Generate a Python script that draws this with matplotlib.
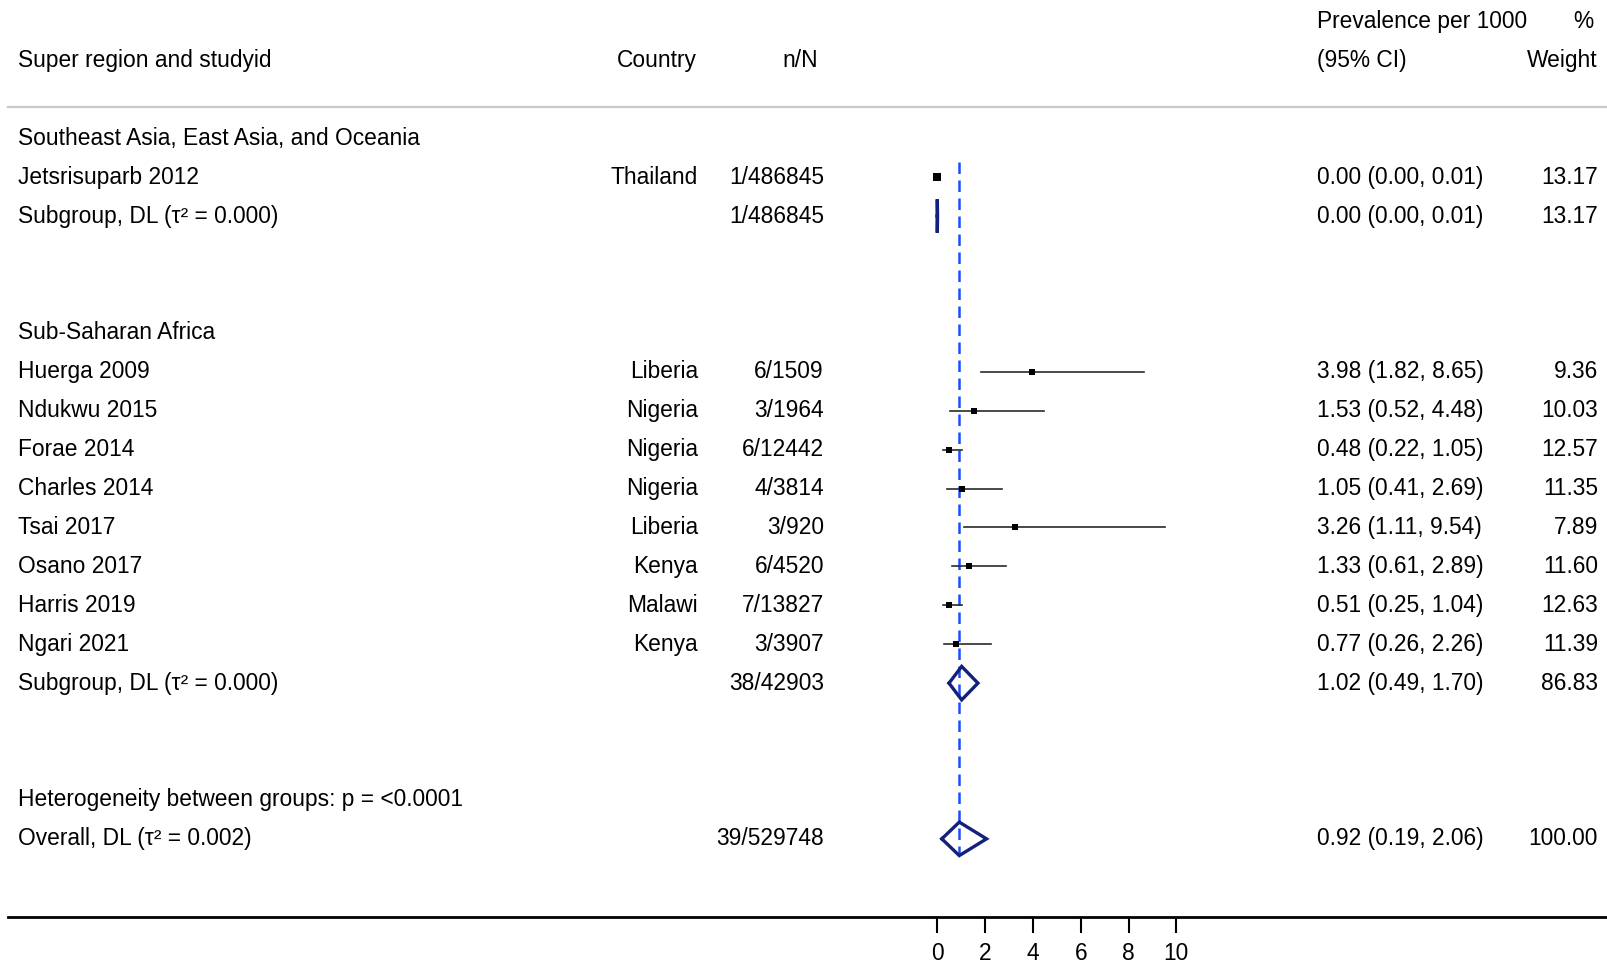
import matplotlib.pyplot as plt
import matplotlib.transforms as mtransforms

plt.rcParams['font.family'] = ['Liberation Sans', 'DejaVu Sans']

# study level data
sea_studies = ["Jetsrisuparb 2012"]
sea_country = ["Thailand"]
sea_nN = ["1/486845"]
sea_est = [0.00]
sea_lo = [0.00]
sea_hi = [0.01]
sea_w = [13.17]
sea_sub = (0.00, 0.00, 0.01)
sea_sub_nN = "1/486845"
sea_sub_w = 13.17

ssa_studies = ["Huerga 2009", "Ndukwu 2015", "Forae 2014", "Charles 2014",
               "Tsai 2017", "Osano 2017", "Harris 2019", "Ngari 2021"]
ssa_country = ["Liberia", "Nigeria", "Nigeria", "Nigeria", "Liberia",
               "Kenya", "Malawi", "Kenya"]
ssa_nN = ["6/1509", "3/1964", "6/12442", "4/3814", "3/920", "6/4520",
          "7/13827", "3/3907"]
ssa_est = [3.98, 1.53, 0.48, 1.05, 3.26, 1.33, 0.51, 0.77]
ssa_lo = [1.82, 0.52, 0.22, 0.41, 1.11, 0.61, 0.25, 0.26]
ssa_hi = [8.65, 4.48, 1.05, 2.69, 9.54, 2.89, 1.04, 2.26]
ssa_w = [9.36, 10.03, 12.57, 11.35, 7.89, 11.60, 12.63, 11.39]
ssa_sub = (1.02, 0.49, 1.70)
ssa_sub_nN = "38/42903"
ssa_sub_w = 86.83

overall = (0.92, 0.19, 2.06)
overall_nN = "39/529748"
overall_w = 100.00

xticks = [0, 2, 4, 6, 8, 10]

W, H = 1608, 965
fig = plt.figure(figsize=(W / 100, H / 100), dpi=100)
ax = fig.add_axes([8 / W, 1 - 916.7 / H, 1 - 8 / W, 916.7 / H])

ppu = 23.9  # pixels per unit on the x axis
x0 = 937.3
ax.set_xlim((8 - x0) / ppu, (W - x0) / ppu)
ax.set_ylim(20, -3.55)

for s in ['top', 'left', 'right']:
    ax.spines[s].set_visible(False)
ax.spines['bottom'].set_linewidth(2.0)
ax.set_yticks([])
ax.set_xticks(xticks)
ax.set_xticklabels([str(t) for t in xticks])
ax.tick_params(axis='x', direction='out', length=11.5, width=1.5, pad=7,
               labelsize=16.4)

tr = mtransforms.blended_transform_factory(fig.transFigure, ax.transData)
fs = 16.4
ink = '#000000'
navy = '#13207c'


def txt(px, row, s, ha='left'):
    ax.text(px / W, row, s, transform=tr, ha=ha, va='center', fontsize=fs,
            color=ink)


def ci(v):
    return "%.2f (%.2f, %.2f)" % v


def diamond(v, row):
    est, lo, hi = v
    h = 0.43
    ax.plot([lo, est, hi, est, lo], [row, row - h, row, row + h, row],
            color=navy, lw=2.4, solid_joinstyle='miter')


# header
txt(18.5, -2, "Super region and studyid")
txt(697, -2, "Country", ha='right')
txt(818, -2, "n/N", ha='right')
txt(1317, -3, "Prevalence per 1000")
txt(1317, -2, "(95% CI)")
txt(1593, -3, "%", ha='right')
txt(1598, -2, "Weight", ha='right')
ax.plot([(8 - x0) / ppu, (W - x0) / ppu], [-0.79, -0.79], color='#c8c8c8',
        lw=1.6, clip_on=False)


def study_rows(start, names, countries, nN, est, lo, hi, w):
    for i in range(len(names)):
        r = start + i
        txt(18.5, r, names[i])
        txt(698, r, countries[i], ha='right')
        txt(824, r, nN[i], ha='right')
        txt(1317, r, ci((est[i], lo[i], hi[i])))
        txt(1598, r, "%.2f" % w[i], ha='right')
        ax.plot([lo[i], hi[i]], [r, r], color='#2a2a2a', lw=1.2)
        side = 1.95 * w[i] ** 0.5
        ax.plot([est[i]], [r], marker='s', color='black',
                ms=side * 0.72, mew=0, zorder=3)


# Southeast Asia
txt(18.5, 0, "Southeast Asia, East Asia, and Oceania")
study_rows(1, sea_studies, sea_country, sea_nN, sea_est, sea_lo, sea_hi, sea_w)
r = 1 + len(sea_studies)
txt(18.5, r, "Subgroup, DL (τ² = 0.000)")
txt(824, r, sea_sub_nN, ha='right')
txt(1317, r, ci(sea_sub))
txt(1598, r, "%.2f" % sea_sub_w, ha='right')
diamond(sea_sub, r)

# Sub-Saharan Africa
txt(18.5, 5, "Sub-Saharan Africa")
study_rows(6, ssa_studies, ssa_country, ssa_nN, ssa_est, ssa_lo, ssa_hi, ssa_w)
r = 6 + len(ssa_studies)
txt(18.5, r, "Subgroup, DL (τ² = 0.000)")
txt(824, r, ssa_sub_nN, ha='right')
txt(1317, r, ci(ssa_sub))
txt(1598, r, "%.2f" % ssa_sub_w, ha='right')
diamond(ssa_sub, r)

# overall
txt(18.5, 17, "Heterogeneity between groups: p = <0.0001")
txt(18.5, 18, "Overall, DL (τ² = 0.002)")
txt(824, 18, overall_nN, ha='right')
txt(1317, 18, ci(overall))
txt(1598, 18, "%.2f" % overall_w, ha='right')
diamond(overall, 18)

ax.plot([overall[0], overall[0]], [0.6, 18.4], color='#1c4cff', lw=1.8,
        linestyle=(0, (4.6, 2.6)), zorder=1)

fig.savefig('out.png', dpi=100)
